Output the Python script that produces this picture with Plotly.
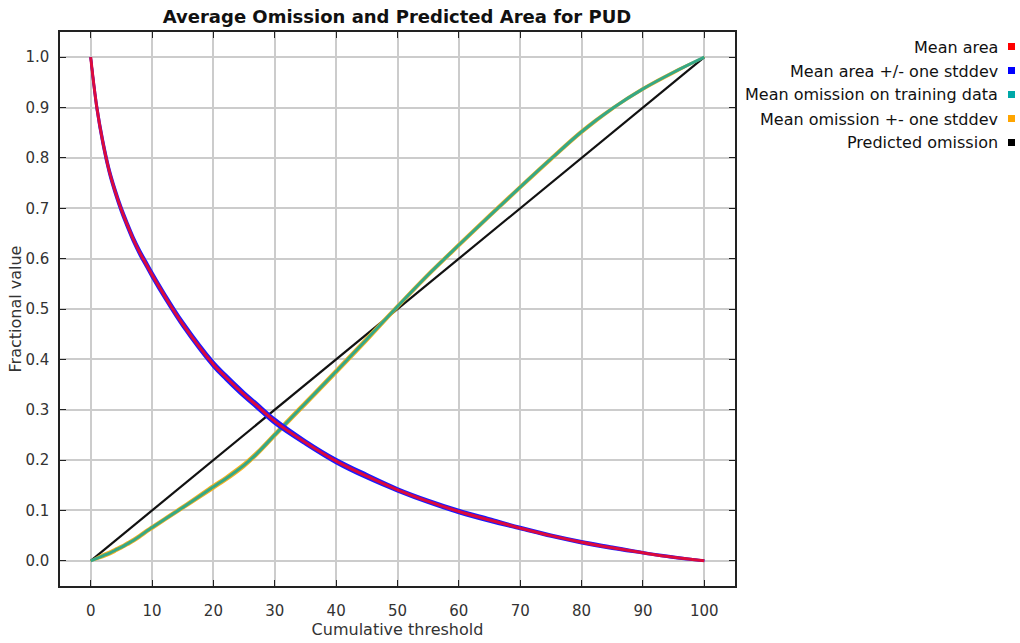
import plotly.graph_objects as go

# ---------------- data ----------------
thresholds = [0, 1, 2, 3, 4, 5, 6, 7, 8, 9, 10, 12, 15, 20, 22, 25, 27, 30, 35, 40, 45, 50,
              55, 60, 65, 70, 75, 80, 85, 90, 95, 100]
mean_area = [1.0, 0.90, 0.83, 0.775, 0.733, 0.697, 0.666, 0.637, 0.612, 0.59, 0.568,
             0.527, 0.47, 0.39, 0.365, 0.33, 0.309, 0.277, 0.235, 0.198, 0.168, 0.141,
             0.118, 0.098, 0.081, 0.065, 0.050, 0.037, 0.026, 0.016, 0.007, 0.0]
area_std = [0.0, 0.004, 0.005, 0.005, 0.005, 0.005, 0.005, 0.005, 0.005, 0.005, 0.005,
            0.005, 0.005, 0.005, 0.005, 0.005, 0.005, 0.005, 0.004, 0.004, 0.004, 0.003,
            0.003, 0.003, 0.003, 0.002, 0.002, 0.002, 0.002, 0.001, 0.001, 0.0]
mean_omission = [0.0, 0.005, 0.01, 0.015, 0.021, 0.027, 0.034, 0.041, 0.049, 0.058,
                 0.066, 0.082, 0.106, 0.147, 0.163, 0.19, 0.212, 0.25, 0.313, 0.376,
                 0.44, 0.505, 0.568, 0.627, 0.685, 0.742, 0.798, 0.852, 0.898, 0.937,
                 0.970, 1.0]
omission_std = [0.0, 0.002, 0.003, 0.003, 0.003, 0.003, 0.003, 0.003, 0.003, 0.003,
                0.003, 0.003, 0.003, 0.004, 0.004, 0.004, 0.004, 0.004, 0.004, 0.004,
                0.004, 0.003, 0.003, 0.003, 0.003, 0.003, 0.003, 0.003, 0.002, 0.002,
                0.002, 0.0]
predicted_x = [0, 100]
predicted_y = [0.0, 1.0]

legend_labels = ["Mean area", "Mean area +/- one stddev", "Mean omission on training data",
                 "Mean omission +- one stddev", "Predicted omission"]
legend_colors = ["#ff0000", "#0000ff", "#00a8a8", "#ffa500", "#000000"]

W, H = 1020, 643
L, R, T, B = 60, 285, 32, 57
FONT = "DejaVu Sans"

fig = go.Figure()

fig.add_trace(go.Scatter(x=predicted_x, y=predicted_y, mode="lines",
                         line=dict(color="#111111", width=2.2), showlegend=False))
om_hi = [m + s for m, s in zip(mean_omission, omission_std)]
om_lo = [m - s for m, s in zip(mean_omission, omission_std)]
for arr in (om_hi, om_lo):
    fig.add_trace(go.Scatter(x=thresholds, y=arr, mode="lines", line_shape="spline",
                             line=dict(color="#f5b021", width=2), showlegend=False))
fig.add_trace(go.Scatter(x=thresholds, y=mean_omission, mode="lines", line_shape="spline",
                         line=dict(color="#35a887", width=3), showlegend=False))
ar_hi = [m + s for m, s in zip(mean_area, area_std)]
ar_lo = [m - s for m, s in zip(mean_area, area_std)]
for arr in (ar_hi, ar_lo):
    fig.add_trace(go.Scatter(x=thresholds, y=arr, mode="lines", line_shape="spline",
                             line=dict(color="#1a1aff", width=2.5), showlegend=False))
fig.add_trace(go.Scatter(x=thresholds, y=mean_area, mode="lines", line_shape="spline",
                         line=dict(color="#dc0a3c", width=3), showlegend=False))

def px_to_paper_x(px):
    return (px - L) / (W - L - R)

def px_to_paper_y(py):
    return (H - B - py) / (H - T - B)

annotations = []
shapes = []
for i, (lab, col) in enumerate(zip(legend_labels, legend_colors)):
    yc = 47 + 24 * i
    annotations.append(dict(text=lab, xref="paper", yref="paper",
                            x=px_to_paper_x(1000), y=px_to_paper_y(yc),
                            xanchor="right", yanchor="middle", showarrow=False,
                            font=dict(family=FONT, size=16, color="#111111")))
    shapes.append(dict(type="rect", xref="paper", yref="paper",
                       x0=px_to_paper_x(1008), x1=px_to_paper_x(1015),
                       y0=px_to_paper_y(yc + 3), y1=px_to_paper_y(yc - 4),
                       fillcolor=col, line=dict(width=0)))

fig.update_layout(
    width=W, height=H,
    margin=dict(l=L, r=R, t=T, b=B, autoexpand=False),
    paper_bgcolor="white", plot_bgcolor="white",
    font=dict(family=FONT, size=15, color="#333333"),
    title=dict(text="<b>Average Omission and Predicted Area for PUD</b>",
               x=px_to_paper_x(397), xref="paper", xanchor="center",
               y=1 - 17 / H, yanchor="middle",
               font=dict(family=FONT, size=18, color="#111111")),
    annotations=annotations, shapes=shapes,
    showlegend=False,
)
fig.update_xaxes(range=[-5, 105], dtick=10, tick0=0, automargin=False,
                 showgrid=True, gridcolor="#cccccc", gridwidth=1.5,
                 showline=True, linecolor="#222222", linewidth=1.5, mirror="ticks",
                 ticks="inside", ticklen=6, tickcolor="#222222",
                 zeroline=False, ticklabelstandoff=10,
                 tickfont=dict(family=FONT, size=15, color="#333333"),
                 title=dict(text="Cumulative threshold", standoff=4,
                            font=dict(family=FONT, size=16, color="#333333")))
fig.update_yaxes(range=[-0.05, 1.05], dtick=0.1, tick0=0, tickformat=".1f", automargin=False,
                 showgrid=True, gridcolor="#cccccc", gridwidth=1.5,
                 showline=True, linecolor="#222222", linewidth=1.5, mirror="ticks",
                 ticks="inside", ticklen=6, tickcolor="#222222",
                 zeroline=False, ticklabelstandoff=6,
                 tickfont=dict(family=FONT, size=15, color="#333333"),
                 title=dict(text="Fractional value", standoff=0,
                            font=dict(family=FONT, size=16, color="#333333")))

fig.write_html("out.html")
